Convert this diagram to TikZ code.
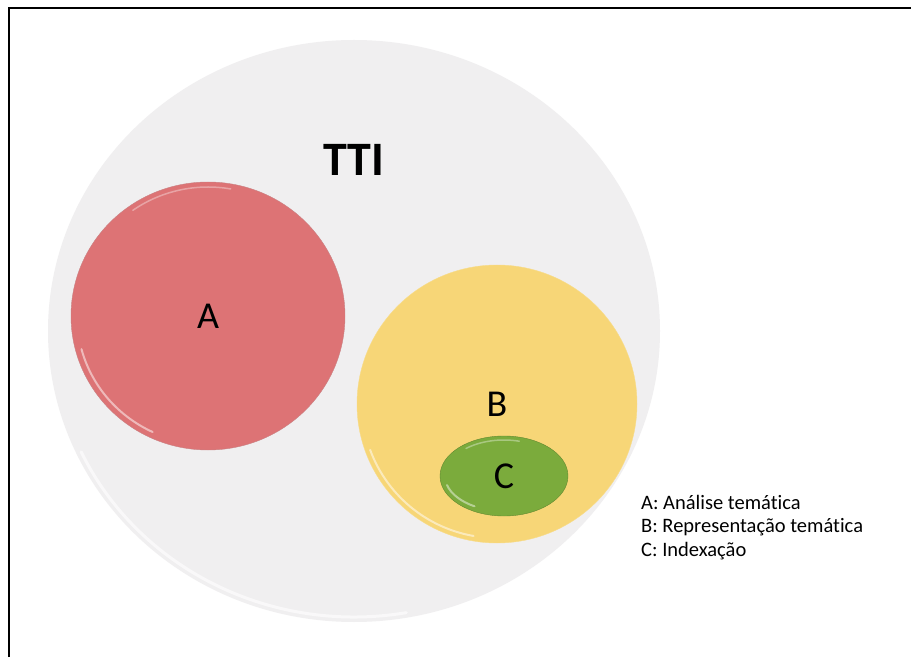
\documentclass[tikz,border=0pt]{standalone}
\usepackage{fontspec}
\setmainfont{Carlito}[Ligatures=NoCommon]
\usetikzlibrary{shapes}
\definecolor{ttigray}{HTML}{F0EFF0}
\definecolor{setA}{HTML}{DD7375}
\definecolor{setB}{HTML}{F7D677}
\definecolor{setC}{HTML}{7BAB3C}
\begin{document}
\begin{tikzpicture}[x=1pt, y=1pt,
  set/.style={ellipse, inner sep=0pt, font=\fontsize{38}{38}\selectfont},
  shine/.style={white, line width=2pt, opacity=.5, line cap=round},
  legend/.style={anchor=west, inner sep=0pt, font=\fontsize{20.5}{20.5}\selectfont}]
\useasboundingbox (0,0) rectangle (911,657);
\fill[white] (0,0) rectangle (911,657);
\coordinate (f1) at (9,0);
\coordinate (f2) at (9,649);
\coordinate (f3) at (911,649);
\draw[line width=2pt] (f1) -- (f2) -- (f3);

\node[set, fill=ttigray, minimum width=612pt, minimum height=582pt] (tti) at (354,326) {};
\draw[shine, line width=3pt, opacity=.6] (tti.center) ++(205:301pt and 286pt) arc[start angle=205, end angle=280, x radius=301pt, y radius=286pt];
\node[font=\bfseries\fontsize{48}{48}\selectfont] (ttilabel) at (354,497) {TTI};

\node[set, fill=setA, draw=setA!85!black!80, minimum width=274pt, minimum height=268pt] (a) at (208,341) {A};
\draw[shine] (a.center) ++(195:131pt and 128pt) arc[start angle=195, end angle=245, x radius=131pt, y radius=128pt];
\draw[shine, opacity=.35, line width=1.5pt] (a.center) ++(80:131pt and 129pt) arc[start angle=80, end angle=125, x radius=131pt, y radius=129pt];

\node[set, fill=setB, draw=setB!85!white, minimum width=280pt, minimum height=278pt] (b) at (497,253) {B};
\draw[shine] (b.center) ++(200:135pt and 134pt) arc[start angle=200, end angle=260, x radius=135pt, y radius=134pt];

\node[set, fill=setC, draw=setC!80!black, minimum width=128pt, minimum height=80pt] (c) at (504,181) {C};
\draw[shine, opacity=.45] (c.center) ++(195:59pt and 35pt) arc[start angle=195, end angle=240, x radius=59pt, y radius=35pt];
\draw[setC!65!white, line width=1.5pt, line cap=round] (c.center) ++(75:59pt and 36pt) arc[start angle=75, end angle=130, x radius=59pt, y radius=36pt];

\node[legend] (la) at (641,155) {A: Análise temática};
\node[legend] (lb) at (641,130) {B: Representação temática};
\node[legend] (lc) at (641,106) {C: Indexação};
\end{tikzpicture}
\end{document}
